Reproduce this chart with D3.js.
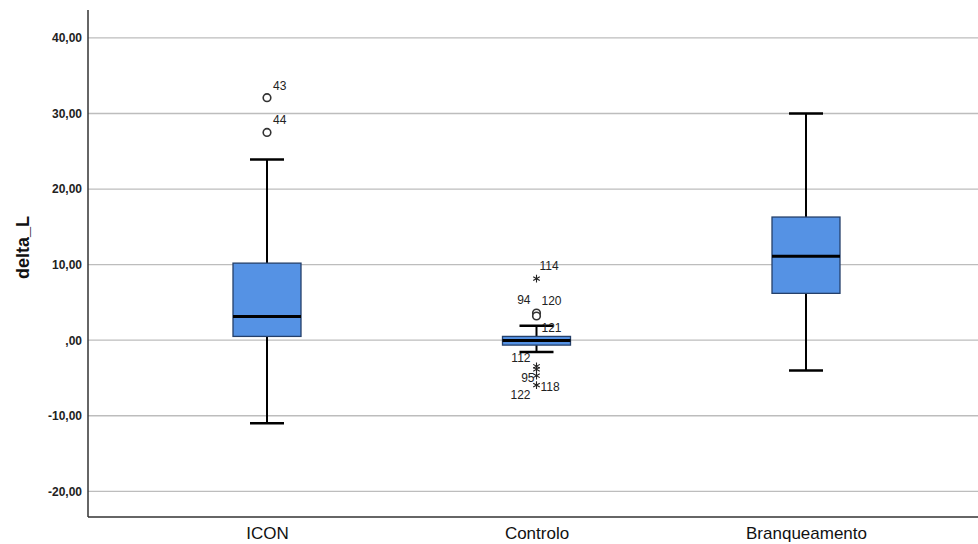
<!DOCTYPE html>
<html>
<head>
<meta charset="utf-8">
<script src="https://cdn.jsdelivr.net/npm/d3@7"></script>
<style>
  html, body { margin: 0; padding: 0; background: #ffffff; }
  svg { display: block; font-family: "Liberation Sans", Arial, sans-serif; }
</style>
</head>
<body>
<svg id="chart" width="978" height="544"></svg>
<script>
// Groups and box-plot summary statistics of delta_L
const categories   = ["ICON", "Controlo", "Branqueamento"];
const whiskerLow   = [-11.0, -1.55, -4.0];
const quartile1    = [0.5, -0.65, 6.2];
const medians      = [3.15, -0.05, 11.1];
const quartile3    = [10.2, 0.5, 16.3];
const whiskerHigh  = [23.9, 1.9, 30.0];

// Outlying cases (case number, group, value, kind: "o" = outlier, "*" = extreme)
const outlierCase  = [43, 44, 114, 94, 120, 112, 122, 95, 118];
const outlierGroup = ["ICON", "ICON", "Controlo", "Controlo", "Controlo", "Controlo", "Controlo", "Controlo", "Controlo"];
const outlierValue = [32.1, 27.5, 8.15, 3.6, 3.2, -3.45, -3.85, -4.7, -5.95];
const outlierKind  = ["o", "o", "*", "o", "o", "*", "*", "*", "*"];

// Case labelled at the upper whisker of Controlo
const whiskerCaseLabel = { group: "Controlo", caseNo: 121 };

// Y-axis ticks
const yTicks = [-20, -10, 0, 10, 20, 30, 40];
const yTitle = "delta_L";

// Label placement for each case number: [anchor, dx, dy]
const labelPlace = {
  43: ["start", 6, -8], 44: ["start", 6, -8],
  114: ["start", 3, -9], 94: ["end", -6, -9], 120: ["start", 5, -11],
  121: ["start", 5, 6],
  112: ["end", -6, -4], 122: ["end", -6, 30], 95: ["end", -2, 6], 118: ["start", 4, 6]
};

const svg = d3.select("#chart");
const plotL = 88, plotR = 978, plotT = 10, plotB = 517;

const y = d3.scaleLinear().domain([-23.4, 43.7]).range([plotB, plotT]);
const x = d3.scalePoint().domain(categories).range([267, 806]);

const boxW = 68, capW = 34;
const fmt = v => (v === 0 ? ",00" : d3.format(".2f")(v).replace(".", ",").replace("−", "-"));

// gridlines
svg.append("g").selectAll("line").data(yTicks).join("line")
  .attr("x1", plotL).attr("x2", plotR)
  .attr("y1", d => y(d)).attr("y2", d => y(d))
  .attr("stroke", "#bdbdbd").attr("stroke-width", 1.3);

// y axis
const yAxis = d3.axisLeft(y).tickValues(yTicks).tickFormat(fmt).tickSize(0).tickPadding(6);
const gy = svg.append("g").attr("transform", `translate(${plotL},0)`).call(yAxis);
gy.select(".domain").remove();
gy.selectAll("text")
  .attr("font-size", 12).attr("font-weight", "bold").attr("fill", "#222")
  .attr("font-family", "Liberation Sans, Arial, sans-serif");

// x axis
const xAxis = d3.axisBottom(x).tickSize(0).tickPadding(10);
const gx = svg.append("g").attr("transform", `translate(0,${plotB})`).call(xAxis);
gx.select(".domain").remove();
gx.selectAll("text")
  .attr("font-size", 17).attr("fill", "#111")
  .attr("font-family", "Liberation Sans, Arial, sans-serif");

// axis frame lines
svg.append("line").attr("x1", plotL).attr("x2", plotL).attr("y1", plotT).attr("y2", plotB)
  .attr("stroke", "#333").attr("stroke-width", 1.5);
svg.append("line").attr("x1", plotL).attr("x2", plotR).attr("y1", plotB).attr("y2", plotB)
  .attr("stroke", "#333").attr("stroke-width", 1.5);

// y title
svg.append("text")
  .attr("transform", `translate(29,${(plotT + plotB) / 2 - 16}) rotate(-90)`)
  .attr("text-anchor", "middle")
  .attr("font-size", 18).attr("font-weight", "bold").attr("fill", "#111")
  .text(yTitle);

// boxes
const groups = categories.map((c, i) => ({
  c, lo: whiskerLow[i], q1: quartile1[i], med: medians[i], q3: quartile3[i], hi: whiskerHigh[i]
}));

const g = svg.append("g").selectAll("g").data(groups).join("g");

g.append("line").attr("x1", d => x(d.c)).attr("x2", d => x(d.c))
  .attr("y1", d => y(d.hi)).attr("y2", d => y(d.q3))
  .attr("stroke", "#000").attr("stroke-width", 2);
g.append("line").attr("x1", d => x(d.c)).attr("x2", d => x(d.c))
  .attr("y1", d => y(d.q1)).attr("y2", d => y(d.lo))
  .attr("stroke", "#000").attr("stroke-width", 2);
g.append("line").attr("x1", d => x(d.c) - capW / 2).attr("x2", d => x(d.c) + capW / 2)
  .attr("y1", d => y(d.hi)).attr("y2", d => y(d.hi))
  .attr("stroke", "#000").attr("stroke-width", 2.5);
g.append("line").attr("x1", d => x(d.c) - capW / 2).attr("x2", d => x(d.c) + capW / 2)
  .attr("y1", d => y(d.lo)).attr("y2", d => y(d.lo))
  .attr("stroke", "#000").attr("stroke-width", 2.5);
g.append("rect")
  .attr("x", d => x(d.c) - boxW / 2).attr("width", boxW)
  .attr("y", d => y(d.q3)).attr("height", d => y(d.q1) - y(d.q3))
  .attr("fill", "#5592e4").attr("stroke", "#25406a").attr("stroke-width", 1.3);
g.append("line").attr("x1", d => x(d.c) - boxW / 2).attr("x2", d => x(d.c) + boxW / 2)
  .attr("y1", d => y(d.med)).attr("y2", d => y(d.med))
  .attr("stroke", "#000").attr("stroke-width", 3);

// outliers
const outs = outlierCase.map((n, i) => ({
  n, c: outlierGroup[i], v: outlierValue[i], k: outlierKind[i]
}));
const og = svg.append("g");
og.selectAll("circle").data(outs.filter(d => d.k === "o")).join("circle")
  .attr("cx", d => x(d.c)).attr("cy", d => y(d.v)).attr("r", 3.8)
  .attr("fill", "#fff").attr("stroke", "#333").attr("stroke-width", 1.6);
const star = d3.symbol().type(d3.symbolAsterisk).size(40);
og.selectAll("path").data(outs.filter(d => d.k === "*")).join("path")
  .attr("transform", d => `translate(${x(d.c)},${y(d.v)})`)
  .attr("d", star).attr("fill", "none").attr("stroke", "#222").attr("stroke-width", 1.1);

// case labels
const labelData = outs.map(d => ({ n: d.n, c: d.c, v: d.v }));
const wi = categories.indexOf(whiskerCaseLabel.group);
labelData.push({ n: whiskerCaseLabel.caseNo, c: whiskerCaseLabel.group, v: whiskerHigh[wi] });
og.selectAll("text").data(labelData).join("text")
  .attr("x", d => x(d.c) + labelPlace[d.n][1])
  .attr("y", d => y(d.v) + labelPlace[d.n][2])
  .attr("text-anchor", d => labelPlace[d.n][0])
  .attr("font-size", 12).attr("fill", "#222")
  .text(d => d.n);
</script>
</body>
</html>
